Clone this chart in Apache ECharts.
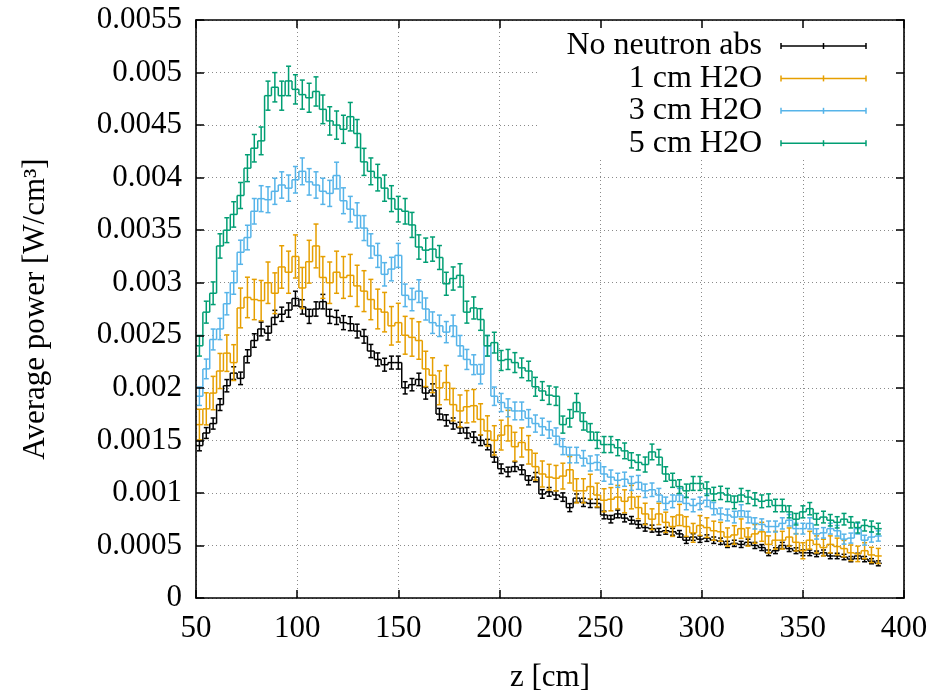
<!DOCTYPE html>
<html>
<head>
<meta charset="utf-8">
<script src="https://cdn.jsdelivr.net/npm/echarts@6/dist/echarts.min.js"></script>
<style>
html,body{margin:0;padding:0;background:#fff;}
#chart{width:929px;height:692px;}
</style>
</head>
<body>
<div id="chart"></div>
<script>
// ---- data ----
const binStart = 50;      // cm, left edge of first bin
const binWidth = 3.39;    // cm
const seriesNames = ['No neutron abs', '1 cm H2O', '3 cm H2O', '5 cm H2O'];
const seriesColors = ['#000000', '#E69F00', '#56B4E9', '#009E73'];
const xTickLabels = ['50', '100', '150', '200', '250', '300', '350', '400'];
const yTickLabels = ['0', '0.0005', '0.001', '0.0015', '0.002', '0.0025', '0.003', '0.0035', '0.004', '0.0045', '0.005', '0.0055'];

const noAbs = [
0.00145,0.00157,0.00166,0.00184,0.00202,0.00214,0.00209,0.00230,0.00245,0.00256,
0.00252,0.00267,0.00270,0.00274,0.00285,0.00277,0.00268,0.00275,0.00282,0.00268,
0.00267,0.00262,0.00261,0.00254,0.00249,0.00235,0.00227,0.00222,0.00224,0.00224,
0.00200,0.00203,0.00208,0.00195,0.00198,0.00175,0.00169,0.00166,0.00162,0.00157,
0.00153,0.00150,0.00146,0.00134,0.00123,0.00120,0.00125,0.00122,0.00112,0.00115,
0.00099,0.00101,0.00098,0.00096,0.00086,0.00095,0.00091,0.00090,0.00090,0.00079,
0.00075,0.00080,0.00076,0.00074,0.00070,0.00067,0.00066,0.00063,0.00064,0.00063,
0.00061,0.00055,0.00058,0.00056,0.00057,0.00055,0.00054,0.00051,0.00052,0.00051,
0.00053,0.00050,0.00048,0.00043,0.00045,0.00050,0.00047,0.00045,0.00043,0.00043,
0.00042,0.00043,0.00040,0.00040,0.00039,0.00037,0.00040,0.00037,0.00035,0.00033];

const h2o1 = [
0.00165,0.00180,0.00195,0.00216,0.00233,0.00224,0.00276,0.00286,0.00284,0.00283,
0.00300,0.00290,0.00315,0.00310,0.00325,0.00295,0.00320,0.00335,0.00305,0.00300,
0.00310,0.00305,0.00307,0.00297,0.00292,0.00284,0.00275,0.00272,0.00259,0.00262,
0.00250,0.00248,0.00245,0.00218,0.00212,0.00200,0.00205,0.00184,0.00178,0.00182,
0.00183,0.00170,0.00159,0.00150,0.00155,0.00164,0.00144,0.00148,0.00141,0.00125,
0.00118,0.00115,0.00114,0.00116,0.00122,0.00102,0.00102,0.00106,0.00098,0.00093,
0.00094,0.00096,0.00092,0.00096,0.00086,0.00080,0.00075,0.00080,0.00072,0.00068,
0.00079,0.00068,0.00062,0.00069,0.00067,0.00064,0.00063,0.00058,0.00060,0.00066,
0.00058,0.00061,0.00063,0.00051,0.00055,0.00055,0.00058,0.00053,0.00045,0.00055,
0.00051,0.00048,0.00051,0.00049,0.00047,0.00043,0.00042,0.00045,0.00041,0.00040];

const h2o3 = [
0.00192,0.00218,0.00246,0.00256,0.00280,0.00300,0.00329,0.00343,0.00368,0.00380,
0.00379,0.00387,0.00393,0.00390,0.00398,0.00406,0.00396,0.00393,0.00387,0.00385,
0.00402,0.00378,0.00370,0.00364,0.00352,0.00335,0.00326,0.00308,0.00313,0.00326,
0.00288,0.00284,0.00292,0.00275,0.00262,0.00259,0.00253,0.00259,0.00240,0.00227,
0.00222,0.00213,0.00240,0.00192,0.00186,0.00181,0.00178,0.00178,0.00171,0.00166,
0.00163,0.00160,0.00154,0.00144,0.00136,0.00136,0.00133,0.00128,0.00129,0.00118,
0.00115,0.00112,0.00113,0.00109,0.00110,0.00102,0.00103,0.00098,0.00090,0.00092,
0.00098,0.00090,0.00088,0.00090,0.00093,0.00085,0.00080,0.00079,0.00077,0.00083,
0.00077,0.00071,0.00070,0.00068,0.00068,0.00071,0.00074,0.00066,0.00066,0.00071,
0.00061,0.00062,0.00066,0.00064,0.00056,0.00057,0.00066,0.00055,0.00058,0.00059];

const h2o5 = [
0.00240,0.00272,0.00290,0.00335,0.00350,0.00365,0.00383,0.00409,0.00428,0.00435,
0.00478,0.00486,0.00478,0.00492,0.00484,0.00479,0.00476,0.00482,0.00465,0.00454,
0.00450,0.00446,0.00458,0.00442,0.00415,0.00406,0.00400,0.00390,0.00380,0.00370,
0.00368,0.00355,0.00334,0.00331,0.00332,0.00324,0.00299,0.00304,0.00307,0.00272,
0.00276,0.00265,0.00240,0.00243,0.00226,0.00227,0.00224,0.00219,0.00216,0.00201,
0.00197,0.00193,0.00192,0.00165,0.00171,0.00186,0.00168,0.00158,0.00150,0.00146,
0.00146,0.00143,0.00140,0.00131,0.00129,0.00127,0.00139,0.00134,0.00118,0.00112,
0.00106,0.00102,0.00109,0.00109,0.00104,0.00099,0.00100,0.00098,0.00091,0.00098,
0.00096,0.00094,0.00092,0.00093,0.00088,0.00088,0.00082,0.00075,0.00082,0.00085,
0.00075,0.00077,0.00074,0.00072,0.00075,0.00072,0.00067,0.00069,0.00068,0.00066];

// error bar size model per series: err = scale * sqrt(value)
const errScale = [0.0013, 0.0036, 0.0020, 0.0020];

const allSeries = [noAbs, h2o1, h2o3, h2o5];

// ---- chart ----
const chart = echarts.init(document.getElementById('chart'), null, {renderer: 'canvas'});
const FONT = '"Liberation Serif", "Times New Roman", serif';
const LW = 1.5;
const CAP = 2.5;

function makeRender(vals, color) {
  return function (params, api) {
    const i = params.dataIndex;
    const x = api.value(0), y = api.value(1), e = api.value(2);
    const pL = api.coord([x - binWidth / 2, y]);
    const pR = api.coord([x + binWidth / 2, y]);
    const pC = api.coord([x, y]);
    const pT = api.coord([x, y + e]);
    const pB = api.coord([x, y - e]);
    const st = {stroke: color, lineWidth: LW, fill: null};
    const ch = [
      {type: 'line', shape: {x1: pL[0], y1: pL[1], x2: pR[0], y2: pR[1]}, style: st},
      {type: 'line', shape: {x1: pC[0], y1: pT[1], x2: pC[0], y2: pB[1]}, style: st},
      {type: 'line', shape: {x1: pC[0] - CAP, y1: pT[1], x2: pC[0] + CAP, y2: pT[1]}, style: st},
      {type: 'line', shape: {x1: pC[0] - CAP, y1: pB[1], x2: pC[0] + CAP, y2: pB[1]}, style: st}
    ];
    if (i < vals.length - 1) {
      const pN = api.coord([x + binWidth / 2, vals[i + 1]]);
      ch.push({type: 'line', shape: {x1: pR[0], y1: pR[1], x2: pN[0], y2: pN[1]}, style: st});
    }
    return {type: 'group', children: ch};
  };
}

const series = allSeries.map((vals, k) => ({
  type: 'custom',
  name: seriesNames[k],
  xAxisIndex: 0,
  yAxisIndex: 0,
  z: 3 + k,
  clip: true,
  renderItem: makeRender(vals, seriesColors[k]),
  encode: {x: 0, y: 1},
  data: vals.map((v, i) => [binStart + binWidth * (i + 0.5), v, errScale[k] * Math.sqrt(v)]),
  animation: false
}));

const axisCommon = {
  type: 'value',
  axisLine: {show: true, onZero: false, lineStyle: {color: '#000', width: 1.6}},
  axisTick: {show: true, inside: true, length: 8, lineStyle: {color: '#000', width: 1.5}},
  splitLine: {show: false}
};
const labelStyle = {color: '#000', fontFamily: FONT, fontSize: 31};
const gridLine = {show: true, lineStyle: {color: '#8a8a8a', width: 1, type: [1, 3]}};

const xMin = 50, xMax = 400, xInt = 50;
const yMin = 0, yMax = 0.0055, yInt = 0.0005;

// legend (drawn as graphics)
const legendX = 762, legendRow0 = 46, legendStep = 32.4, sampleL = 781, sampleR = 866;
const graphics = [{
  type: 'rect', z: 2, silent: true,
  shape: {x: 538, y: 21, width: 364, height: 138},
  style: {fill: '#fff'}
}];
seriesNames.forEach((nm, k) => {
  const yy = legendRow0 + legendStep * k;
  const st = {stroke: seriesColors[k], lineWidth: LW};
  graphics.push({type: 'text', z: 10, style: {text: nm, x: legendX, y: yy, textAlign: 'right', textVerticalAlign: 'middle', font: '32px ' + FONT, fill: '#000'}});
  graphics.push({type: 'line', z: 10, shape: {x1: sampleL, y1: yy, x2: sampleR, y2: yy}, style: st});
  [sampleL, (sampleL + sampleR) / 2, sampleR].forEach(px => {
    graphics.push({type: 'line', z: 10, shape: {x1: px, y1: yy - 3, x2: px, y2: yy + 3}, style: st});
  });
});

const option = {
  animation: false,
  backgroundColor: '#fff',
  grid: {left: 196, right: 25, top: 20, bottom: 94, containLabel: false, outerBoundsMode: 'none'},
  xAxis: [
    Object.assign({}, axisCommon, {
      position: 'bottom', min: xMin, max: xMax, interval: xInt, z: 20,
      axisLabel: Object.assign({}, labelStyle, {margin: 15, formatter: v => xTickLabels[Math.round((v - xMin) / xInt)]}),
      name: 'z [cm]', nameLocation: 'middle', nameGap: 64,
      nameTextStyle: {color: '#000', fontFamily: FONT, fontSize: 31}
    }),
    Object.assign({}, axisCommon, {
      position: 'top', min: xMin, max: xMax, interval: xInt, z: 20,
      axisLabel: {show: false}
    }),
    {type: 'value', position: 'bottom', min: xMin, max: xMax, interval: xInt, z: 0,
     axisLine: {show: false}, axisTick: {show: false}, axisLabel: {show: false}, splitLine: gridLine}
  ],
  yAxis: [
    Object.assign({}, axisCommon, {
      position: 'left', min: yMin, max: yMax, interval: yInt, z: 20,
      axisLabel: Object.assign({}, labelStyle, {margin: 14, formatter: v => yTickLabels[Math.round(v / yInt)]}),
      name: 'Average power [W/cm³]', nameLocation: 'middle', nameGap: 145, nameRotate: 90,
      nameTextStyle: {color: '#000', fontFamily: FONT, fontSize: 31}
    }),
    Object.assign({}, axisCommon, {
      position: 'right', min: yMin, max: yMax, interval: yInt, z: 20,
      axisLabel: {show: false}
    }),
    {type: 'value', position: 'left', min: yMin, max: yMax, interval: yInt, z: 0,
     axisLine: {show: false}, axisTick: {show: false}, axisLabel: {show: false}, splitLine: gridLine}
  ],
  graphic: graphics,
  series: series
};
chart.setOption(option);
</script>
</body>
</html>
